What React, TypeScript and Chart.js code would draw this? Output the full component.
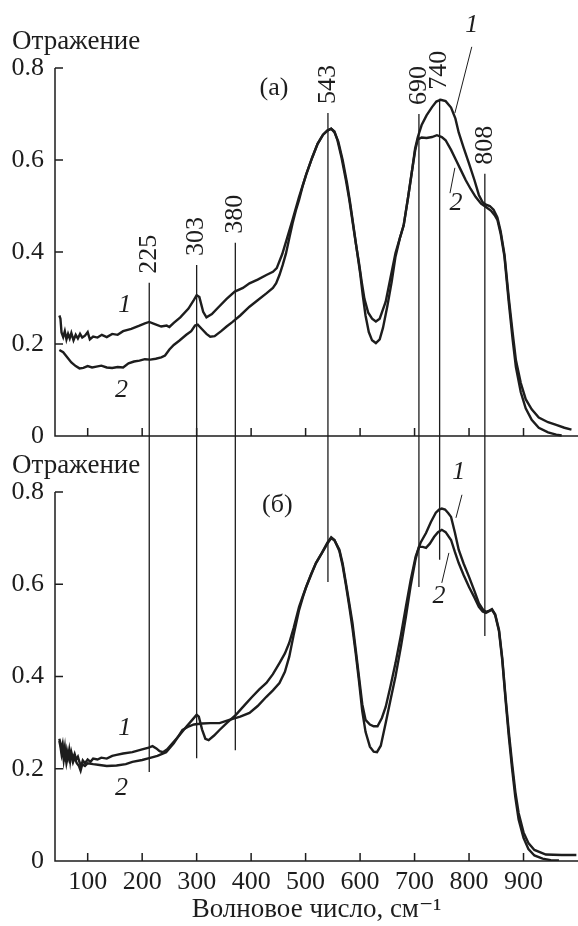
import { useEffect, useRef } from 'react';
import { Chart, registerables } from 'chart.js';

Chart.register(...registerables);

const FONT = '"Liberation Serif", "DejaVu Serif", serif';
const INK = '#1d1d1d';
const NUM_SIZE = 26;
const TEXT_SIZE = 27;

// панель (а), кривая 1
const waveA1 = [48, 50, 52, 55, 58, 61, 64, 67, 70, 74, 78, 82, 86, 90, 95, 100, 104, 110, 118, 126, 135, 145, 155, 165, 180, 195, 205, 213, 222, 235, 245, 250, 258, 270, 285, 295, 300, 305, 312, 318, 328, 340, 355, 370, 385, 397, 412, 428, 440, 447, 457, 466, 476, 488, 501, 512, 522, 532, 540, 547, 553, 558, 566, 574, 580, 586, 592, 598, 603, 608, 615, 622, 629, 636, 647, 656, 665, 673, 680, 688, 695, 701, 706, 713, 722, 732, 740, 748, 757, 767, 775, 781, 790, 800, 810, 818, 825, 831, 838, 845, 852, 858, 865, 873, 880, 886, 895, 904, 915, 928, 945, 960, 975, 988];
const reflA1 = [0.262, 0.255, 0.225, 0.215, 0.228, 0.21, 0.222, 0.212, 0.224, 0.208, 0.22, 0.212, 0.222, 0.214, 0.218, 0.226, 0.21, 0.216, 0.214, 0.22, 0.215, 0.222, 0.22, 0.228, 0.233, 0.24, 0.245, 0.248, 0.244, 0.238, 0.24, 0.237, 0.246, 0.258, 0.277, 0.296, 0.306, 0.302, 0.27, 0.258, 0.265, 0.28, 0.298, 0.314, 0.322, 0.332, 0.34, 0.35, 0.357, 0.365, 0.395, 0.43, 0.47, 0.52, 0.568, 0.605, 0.635, 0.655, 0.664, 0.668, 0.662, 0.645, 0.605, 0.556, 0.515, 0.468, 0.42, 0.376, 0.335, 0.298, 0.268, 0.255, 0.249, 0.255, 0.292, 0.345, 0.398, 0.43, 0.458, 0.518, 0.574, 0.625, 0.65, 0.676, 0.697, 0.715, 0.727, 0.731, 0.728, 0.714, 0.69, 0.66, 0.627, 0.592, 0.556, 0.524, 0.508, 0.503, 0.5, 0.492, 0.475, 0.445, 0.395, 0.3, 0.225, 0.165, 0.115, 0.08, 0.058, 0.04, 0.03, 0.024, 0.018, 0.014];

// панель (а), кривая 2
const waveA2 = [48, 55, 62, 70, 78, 85, 92, 100, 108, 116, 125, 135, 145, 155, 165, 175, 185, 195, 205, 215, 225, 235, 242, 250, 258, 268, 281, 290, 297, 302, 310, 318, 325, 333, 345, 355, 366, 380, 397, 412, 428, 440, 446, 452, 458, 464, 470, 476, 482, 488, 495, 501, 512, 522, 532, 540, 547, 553, 560, 568, 576, 582, 588, 594, 600, 605, 610, 616, 622, 629, 636, 642, 650, 658, 665, 673, 680, 688, 695, 701, 706, 713, 722, 732, 741, 750, 757, 767, 776, 785, 794, 803, 812, 822, 831, 840, 847, 852, 858, 865, 873, 880, 886, 895, 904, 915, 928, 945, 960, 970];
const reflA2 = [0.187, 0.182, 0.172, 0.16, 0.152, 0.147, 0.148, 0.152, 0.149, 0.151, 0.153, 0.149, 0.148, 0.15, 0.149, 0.158, 0.162, 0.164, 0.167, 0.166, 0.168, 0.171, 0.175, 0.188, 0.198, 0.207, 0.22, 0.228, 0.24, 0.242, 0.232, 0.222, 0.216, 0.217, 0.228, 0.238, 0.248, 0.262, 0.281, 0.295, 0.31, 0.322, 0.332, 0.35, 0.372, 0.397, 0.43, 0.462, 0.49, 0.513, 0.545, 0.568, 0.605, 0.635, 0.655, 0.664, 0.668, 0.66, 0.64, 0.6, 0.55, 0.505, 0.455, 0.405, 0.355, 0.305, 0.262, 0.226, 0.208, 0.202, 0.21, 0.235, 0.282, 0.335, 0.39, 0.43, 0.458, 0.518, 0.574, 0.62, 0.645, 0.649, 0.648, 0.65, 0.654, 0.65, 0.643, 0.622, 0.6, 0.578, 0.556, 0.537, 0.52, 0.505, 0.498, 0.49, 0.48, 0.47, 0.44, 0.39, 0.29, 0.21, 0.15, 0.095, 0.06, 0.035, 0.018, 0.008, 0.003, 0.001];

// панель (б), кривая 1
const waveB1 = [48, 50, 52, 54, 56, 58, 60, 62, 64, 66, 68, 70, 73, 76, 79, 82, 85, 88, 91, 95, 100, 105, 110, 118, 125, 135, 145, 153, 165, 182, 200, 212, 219, 226, 232, 238, 246, 256, 268, 281, 292, 300, 304, 310, 316, 322, 332, 342, 356, 372, 388, 402, 415, 428, 440, 452, 462, 470, 478, 488, 495, 501, 510, 519, 530, 540, 547, 553, 562, 568, 574, 580, 586, 592, 598, 604, 610, 618, 625, 632, 640, 647, 656, 665, 675, 684, 693, 702, 711, 721, 730, 739, 745, 750, 756, 762, 767, 774, 781, 790, 800, 810, 818, 825, 831, 836, 842, 848, 855, 861, 867, 873, 879, 885, 891, 900, 909, 920, 941, 970, 997];
const reflB1 = [0.265, 0.255, 0.24, 0.252, 0.228, 0.245, 0.215, 0.238, 0.226, 0.24, 0.218, 0.236, 0.222, 0.232, 0.22, 0.226, 0.214, 0.205, 0.218, 0.212, 0.22, 0.215, 0.222, 0.22, 0.224, 0.222, 0.228, 0.23, 0.233, 0.236, 0.242, 0.246, 0.249, 0.244, 0.238, 0.236, 0.242, 0.256, 0.272, 0.291, 0.306, 0.317, 0.313, 0.285, 0.265, 0.262, 0.272, 0.284, 0.3, 0.317, 0.338, 0.356, 0.372, 0.386, 0.405, 0.429, 0.45, 0.473, 0.505, 0.551, 0.575, 0.594, 0.622, 0.646, 0.668, 0.688, 0.7, 0.695, 0.675, 0.645, 0.603, 0.56, 0.516, 0.458, 0.399, 0.34, 0.306, 0.296, 0.292, 0.292, 0.31, 0.334, 0.38, 0.429, 0.49, 0.551, 0.61, 0.66, 0.69, 0.711, 0.735, 0.755, 0.762, 0.764, 0.762, 0.754, 0.746, 0.712, 0.675, 0.645, 0.616, 0.585, 0.559, 0.546, 0.54, 0.542, 0.546, 0.535, 0.501, 0.44, 0.356, 0.28, 0.212, 0.15, 0.104, 0.062, 0.039, 0.024, 0.014, 0.013, 0.013];

// панель (б), кривая 2
const waveB2 = [48, 50, 52, 54, 56, 58, 61, 64, 67, 70, 73, 76, 80, 84, 87, 90, 95, 100, 110, 122, 135, 153, 170, 182, 200, 213, 228, 244, 258, 274, 286, 295, 310, 325, 342, 360, 380, 397, 412, 428, 440, 452, 462, 470, 478, 488, 495, 501, 510, 519, 530, 540, 547, 553, 562, 568, 574, 580, 586, 592, 598, 604, 610, 618, 625, 631, 638, 647, 656, 665, 675, 684, 693, 702, 708, 715, 721, 728, 736, 743, 750, 757, 767, 774, 781, 790, 800, 810, 818, 825, 831, 836, 842, 848, 855, 861, 867, 873, 879, 885, 891, 900, 909, 920, 935, 950, 965];
const reflB2 = [0.26, 0.248, 0.232, 0.245, 0.22, 0.238, 0.212, 0.23, 0.218, 0.228, 0.214, 0.224, 0.212, 0.206, 0.196, 0.21, 0.206, 0.212, 0.21, 0.208, 0.206, 0.207, 0.21, 0.215, 0.219, 0.223, 0.228, 0.236, 0.255, 0.284, 0.292, 0.296, 0.298, 0.299, 0.299, 0.306, 0.313, 0.321, 0.336, 0.356, 0.37, 0.386, 0.41, 0.443, 0.49, 0.544, 0.572, 0.594, 0.62, 0.646, 0.668, 0.69, 0.702, 0.696, 0.672, 0.64, 0.598, 0.553, 0.505, 0.45, 0.39, 0.325, 0.28, 0.248, 0.237, 0.236, 0.25, 0.299, 0.35, 0.4, 0.465, 0.529, 0.598, 0.655, 0.681, 0.681, 0.679, 0.688, 0.703, 0.713, 0.718, 0.713, 0.696, 0.67, 0.646, 0.62, 0.594, 0.571, 0.551, 0.541, 0.538, 0.541, 0.545, 0.533, 0.498, 0.435, 0.35, 0.27, 0.2, 0.138, 0.09, 0.05, 0.026, 0.012, 0.005, 0.002, 0.001];

// вертикальные линии полос
const bandWave = [213, 300, 371, 541, 708, 746, 829];
const bandLabels = ['225', '303', '380', '543', '690', '740', '808'];
const bandTop = [0.333, 0.372, 0.42, 0.702, 0.7, 0.733, 0.57]; // по оси панели (а)
const bandBottom = [0.193, 0.223, 0.24, 0.605, 0.594, 0.653, 0.488]; // по оси панели (б)

// номера кривых
const tagText = ['1', '2', '1', '2'];
const tagWaveA = [168, 162, 805, 776];
const tagReflA = [0.285, 0.1, 0.893, 0.507];
const tagWaveB = [168, 162, 781, 745];
const tagReflB = [0.289, 0.158, 0.842, 0.575];

// выноски: [x1, y1, x2, y2]
const leadersA = [[805, 0.846, 774, 0.702], [774, 0.583, 765, 0.528]];
const leadersB = [[787, 0.794, 776, 0.744], [763, 0.668, 750, 0.603]];

const xTicks = [100, 200, 300, 400, 500, 600, 700, 800, 900];
const yTicks = [0, 0.2, 0.4, 0.6, 0.8];

const toPoints = (xs: number[], ys: number[]) => xs.map((x, i) => ({ x, y: ys[i] }));

const decorPlugin = {
  id: 'decor',
  afterDatasetsDraw(chart: any) {
    const ctx = chart.ctx;
    const xs = chart.scales.x;
    const panels = [
      { s: chart.scales.yTop, title: '(а)', tx: 442, ty: 0.757, tagX: tagWaveA, tagY: tagReflA, leaders: leadersA },
      { s: chart.scales.yBottom, title: '(б)', tx: 448, ty: 0.772, tagX: tagWaveB, tagY: tagReflB, leaders: leadersB },
    ];
    const left = chart.chartArea.left;
    const right = chart.chartArea.right;

    ctx.save();
    ctx.strokeStyle = INK;
    ctx.fillStyle = INK;

    panels.forEach((p) => {
      const y0 = p.s.getPixelForValue(0);
      const y1 = p.s.getPixelForValue(0.8);
      ctx.lineWidth = 1.5;
      ctx.beginPath();
      ctx.moveTo(left, y1);
      ctx.lineTo(left, y0);
      ctx.lineTo(right, y0);
      yTicks.forEach((v) => {
        const py = p.s.getPixelForValue(v);
        ctx.moveTo(left, py);
        ctx.lineTo(left + 8, py);
      });
      xTicks.forEach((v) => {
        const px = xs.getPixelForValue(v);
        ctx.moveTo(px, y0);
        ctx.lineTo(px, y0 - 8);
      });
      ctx.stroke();

      // подпись оси
      ctx.font = `${TEXT_SIZE}px ${FONT}`;
      ctx.textAlign = 'left';
      ctx.textBaseline = 'middle';
      ctx.fillText('Отражение', left - 43, y1 - 26);

      // буква панели
      ctx.font = `${NUM_SIZE}px ${FONT}`;
      ctx.textAlign = 'center';
      ctx.fillText(p.title, xs.getPixelForValue(p.tx), p.s.getPixelForValue(p.ty));

      // номера кривых
      ctx.font = `italic ${NUM_SIZE}px ${FONT}`;
      tagText.forEach((t, i) => {
        ctx.fillText(t, xs.getPixelForValue(p.tagX[i]), p.s.getPixelForValue(p.tagY[i]));
      });
      ctx.lineWidth = 1;
      ctx.beginPath();
      p.leaders.forEach(([xa, ya, xb, yb]) => {
        ctx.moveTo(xs.getPixelForValue(xa), p.s.getPixelForValue(ya));
        ctx.lineTo(xs.getPixelForValue(xb), p.s.getPixelForValue(yb));
      });
      ctx.stroke();
    });

    // линии полос через обе панели
    const yt = chart.scales.yTop;
    const yb = chart.scales.yBottom;
    ctx.lineWidth = 1.3;
    ctx.font = `${NUM_SIZE}px ${FONT}`;
    bandWave.forEach((w, i) => {
      const px = xs.getPixelForValue(w);
      const top = yt.getPixelForValue(bandTop[i]);
      ctx.beginPath();
      ctx.moveTo(px, top);
      ctx.lineTo(px, yb.getPixelForValue(bandBottom[i]));
      ctx.stroke();
      ctx.save();
      ctx.translate(px, top - 9);
      ctx.rotate(-Math.PI / 2);
      ctx.textAlign = 'left';
      ctx.textBaseline = 'middle';
      ctx.fillText(bandLabels[i], 0, 0);
      ctx.restore();
    });
    ctx.restore();
  },
};

const curveStyle = {
  borderColor: INK,
  borderWidth: 2.4,
  pointRadius: 0,
  tension: 0,
  fill: false,
};

const yScale = (min: number, weight: number) => ({
  type: 'linear',
  position: 'left',
  stack: 'panels',
  stackWeight: weight,
  min,
  max: 0.8,
  afterBuildTicks: (s: any) => {
    s.ticks = yTicks.map((value) => ({ value }));
  },
  afterFit: (s: any) => {
    s.width = 55;
    s.paddingTop = 0;
    s.paddingBottom = 0;
  },
  grid: { display: false, drawTicks: false },
  border: { display: false },
  ticks: {
    padding: 11,
    color: INK,
    font: { family: FONT, size: NUM_SIZE },
    callback: (v: number) => (v === 0 ? '0' : v.toFixed(1)),
  },
});

const SpectraChart: React.FC = () => {
  const chartRef = useRef<HTMLCanvasElement | null>(null);

  useEffect(() => {
    if (!chartRef.current) {
      return;
    }
    const chart = new Chart(chartRef.current, {
      type: 'line',
      data: {
        datasets: [
          { data: toPoints(waveA1, reflA1), yAxisID: 'yTop', ...curveStyle },
          { data: toPoints(waveA2, reflA2), yAxisID: 'yTop', ...curveStyle },
          { data: toPoints(waveB1, reflB1), yAxisID: 'yBottom', ...curveStyle },
          { data: toPoints(waveB2, reflB2), yAxisID: 'yBottom', ...curveStyle },
        ],
      },
      options: {
        animation: false,
        responsive: true,
        maintainAspectRatio: false,
        layout: { padding: { top: 68, left: 0, right: 0, bottom: 0 } },
        plugins: { legend: { display: false }, tooltip: { enabled: false } },
        events: [],
        scales: {
          x: {
            type: 'linear',
            min: 40,
            max: 1000,
            afterBuildTicks: (s: any) => {
              s.ticks = xTicks.map((value) => ({ value }));
            },
            afterFit: (s: any) => {
              s.height = 65;
              s.paddingLeft = 0;
              s.paddingRight = 0;
            },
            grid: { display: false, drawTicks: false },
            border: { display: false },
            ticks: { padding: 6, maxRotation: 0, color: INK, font: { family: FONT, size: NUM_SIZE } },
            title: {
              display: true,
              text: 'Волновое число, см⁻¹',
              color: INK,
              font: { family: FONT, size: TEXT_SIZE },
              padding: { top: 0, bottom: 0 },
            },
          },
          yBottom: yScale(0, 369),
          yTop: yScale(-0.1217, 424),
        } as any,
      },
      plugins: [decorPlugin],
    });

    return () => {
      chart.destroy();
    };
  }, []);

  return (
    <div style={{ position: 'fixed', left: 0, top: 0, width: 578, height: 926, background: '#fff' }}>
      <canvas ref={chartRef} />
    </div>
  );
};

export default function App() {
  return <SpectraChart />;
}
